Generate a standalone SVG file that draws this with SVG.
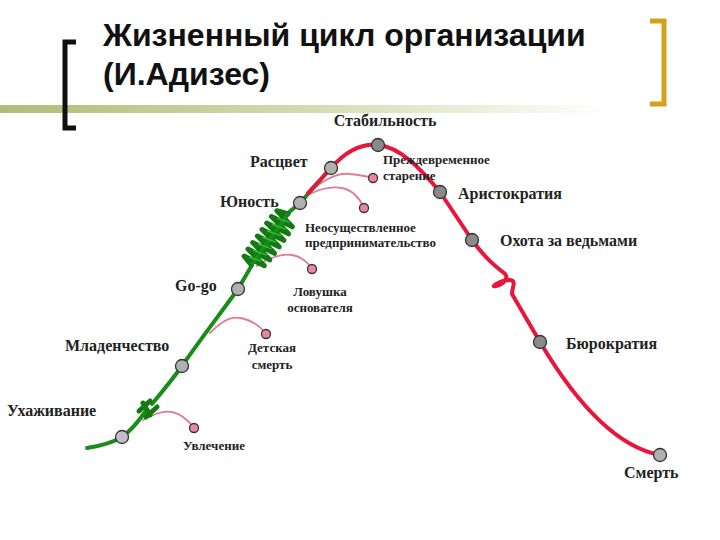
<svg xmlns="http://www.w3.org/2000/svg" width="720" height="540" viewBox="0 0 720 540">
<defs>
<linearGradient id="bar" x1="0" y1="0" x2="1" y2="0">
<stop offset="0" stop-color="#b0bc78"/>
<stop offset="0.5" stop-color="#d3dab0"/>
<stop offset="1" stop-color="#ffffff"/>
</linearGradient>
</defs>
<style>
.title{font-family:'Liberation Sans',Arial,sans-serif;font-weight:bold;font-size:32px;fill:#111}
.lbl{font-family:'Liberation Serif','DejaVu Serif',serif;font-weight:bold;font-size:16px;fill:#222}
.sm{font-family:'Liberation Serif','DejaVu Serif',serif;font-weight:bold;font-size:13px;fill:#222}
.green{fill:none;stroke:#1a8c1a;stroke-width:4;stroke-linecap:round;stroke-linejoin:round}
.red{fill:none;stroke:#e8163c;stroke-width:4;stroke-linecap:round;stroke-linejoin:round}
.pink{fill:none;stroke:#e07c96;stroke-width:1.8;stroke-linecap:round}
.pnode{fill:#ec86a0;stroke:#333;stroke-width:1.3}
.gnode{fill:#b0b0b0;stroke:#333;stroke-width:1.3}
.rnode{fill:#8a8a8a;stroke:#333;stroke-width:1.3}
.coil{fill:none;stroke:#117a11;stroke-width:5;stroke-linejoin:round;stroke-linecap:round}
</style>
<rect x="0" y="0" width="720" height="540" fill="#ffffff"/>
<g id="header">
<rect x="0" y="105" width="610" height="8" fill="url(#bar)"/>
<path d="M76,42 H65 V128 H76" fill="none" stroke="#111" stroke-width="5"/>
<path d="M650,21 H664 V104 H650" fill="none" stroke="#d4a21a" stroke-width="5"/>
<text class="title" x="103" y="46">Жизненный цикл организации</text>
<text class="title" x="103" y="85">(И.Адизес)</text>
</g>
<g id="connectors">
<path class="pink" d="M308,193 C320,183 335,172 350,174 C360,175 366,176 373,178"/>
<path class="pink" d="M310,194 C318,190 330,186 342,188 C352,190 360,198 364,208"/>
<path class="pink" d="M257,266 C265,260 280,253 292,255 C300,256 308,262 312,269"/>
<path class="pink" d="M210,333 C218,325 228,316 240,318 C252,320 260,326 266,334"/>
<path class="pink" d="M143,420 C150,416 162,410 172,412 C182,414 188,420 194,428"/>
<path class="green" d="M87,448 C100,446 112,443 122,437 C132,430 138,422 145,412"/>
<path class="green" d="M152,404 C162,392 172,380 182,366 C200,340 220,314 238,289 L252,265"/>
<path class="green" d="M288,213 L300,203 L331,168"/>
<path class="coil" d="M139,411 L150,401 M146,417 L157,407 M143,403 L150,415"/>
<g transform="translate(270,239) rotate(-54.2)">
<path class="coil" d="M-32,0 L-29,-11 L-25,11 L-21,-12 L-17,12 L-13,-12 L-9,12 L-5,-12 L-1,12 L3,-12 L7,12 L11,-12 L15,12 L19,-12 L23,11 L27,-11 L31,0" stroke-width="6"/>
<path d="M-32,0 H32" stroke="#1a8c1a" stroke-width="4"/>
<path d="M-27,-6 L-23,6 M-19,-7 L-15,7 M-11,-7 L-7,7 M-3,-7 L1,7 M5,-7 L9,7 M13,-7 L17,7 M21,-6 L25,6" stroke="#3cc63c" stroke-width="1.2" fill="none"/>
</g>
<path class="red" d="M308,193 L331,168 C345,152 360,143 378,145 C400,147 420,168 440,192 L472,240 C485,258 495,266 504,273 C510,277 504,284 496,286 C489,288 500,280 510,280 C517,281 512,287 512,294 L540,342 C572,396 612,446 660,455"/>
</g>
<g id="n-stabilnost"><circle class="rnode" cx="378" cy="145" r="6.5"/><text class="lbl" x="385" y="126" text-anchor="middle" font-weight="normal" font-size="15">Стабильность</text></g>
<g id="n-rascvet"><circle class="gnode" cx="331" cy="168" r="6.5"/><text class="lbl" x="250" y="167">Расцвет</text></g>
<g id="n-prezhdevremennoe"><circle class="pnode" cx="373" cy="178" r="4.5"/><text class="sm" x="383" y="164">Преждевременное</text><text class="sm" x="383" y="180">старение</text></g>
<g id="n-aristokratiya"><circle class="rnode" cx="440" cy="192" r="6.5"/><text class="lbl" x="458" y="199">Аристократия</text></g>
<g id="n-yunost"><circle class="gnode" cx="300" cy="203" r="6.5"/><text class="lbl" x="220" y="207">Юность</text></g>
<g id="n-neosush"><circle class="pnode" cx="364" cy="208" r="4.5"/><text class="sm" x="305" y="232">Неосуществленное</text><text class="sm" x="305" y="247">предпринимательство</text></g>
<g id="n-ohota"><circle class="rnode" cx="472" cy="240" r="6.5"/><text class="lbl" x="500" y="246">Охота за ведьмами</text></g>
<g id="n-gogo"><circle class="gnode" cx="238" cy="289" r="6.5"/><text class="lbl" x="175" y="291">Go-go</text></g>
<g id="n-lovushka"><circle class="pnode" cx="312" cy="269" r="4.5"/><text class="sm" x="320" y="296" text-anchor="middle">Ловушка</text><text class="sm" x="320" y="312" text-anchor="middle">основателя</text></g>
<g id="n-mladenchestvo"><circle class="gnode" cx="182" cy="366" r="6.5"/><text class="lbl" x="65" y="351">Младенчество</text></g>
<g id="n-detskaya"><circle class="pnode" cx="266" cy="334" r="4.5"/><text class="sm" x="272" y="352" text-anchor="middle">Детская</text><text class="sm" x="272" y="369" text-anchor="middle">смерть</text></g>
<g id="n-byurokratiya"><circle class="rnode" cx="540" cy="342" r="6.5"/><text class="lbl" x="566" y="349">Бюрократия</text></g>
<g id="n-uhazhivanie"><circle cx="122" cy="437" r="6.5" fill="#c4bccc" stroke="#333" stroke-width="1.3"/><text class="lbl" x="7" y="416">Ухаживание</text></g>
<g id="n-uvlechenie"><circle class="pnode" cx="194" cy="428" r="4.5"/><text class="sm" x="183" y="450">Увлечение</text></g>
<g id="n-smert"><circle class="gnode" cx="660" cy="455" r="6.5"/><text class="lbl" x="624" y="478">Смерть</text></g>
</svg>
